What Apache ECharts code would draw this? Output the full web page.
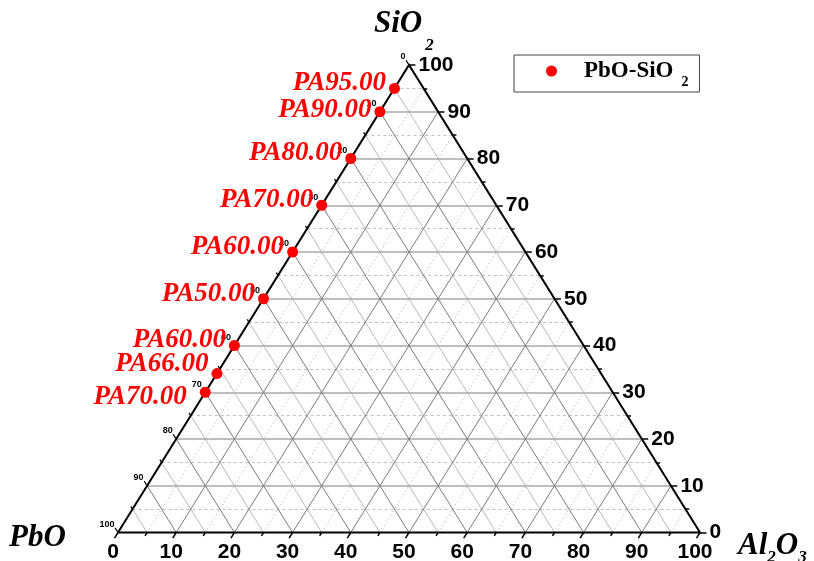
<!DOCTYPE html>
<html>
<head>
<meta charset="utf-8">
<title>PbO-SiO2-Al2O3 ternary</title>
<script src="https://cdn.jsdelivr.net/npm/echarts@6/dist/echarts.min.js"></script>
<style>
  html, body { margin: 0; padding: 0; background: #fff; }
  #chart { width: 814px; height: 561px; }
</style>
</head>
<body>
<div id="chart"></div>
<script>
// compositions in mol %
const sampleNames = ['PA95.00', 'PA90.00', 'PA80.00', 'PA70.00', 'PA60.00', 'PA50.00', 'PA60.00', 'PA66.00', 'PA70.00'];
const pboValues = [5, 10, 20, 30, 40, 50, 60, 66, 70];
const sio2Values = [95, 90, 80, 70, 60, 50, 40, 34, 30];
const al2o3Values = [0, 0, 0, 0, 0, 0, 0, 0, 0];

const majorTicks = [0, 10, 20, 30, 40, 50, 60, 70, 80, 90, 100];
const minorTicks = [5, 15, 25, 35, 45, 55, 65, 75, 85, 95];
const innerTicks = [10, 20, 30, 40, 50, 60, 70, 80, 90];

// ternary -> plane: x runs PbO corner (0) to Al2O3 corner (100), y is SiO2
function toXY(pbo, si, al) {
  return [al + si / 2, si];
}

const serif = 'Liberation Serif';
const sans = 'Liberation Sans';

// grid line families
const siLine = s => ({ coords: [toXY(100 - s, s, 0), toXY(0, s, 100 - s)] });
const alLine = a => ({ coords: [toXY(100 - a, 0, a), toXY(0, 100 - a, a)] });
const pbLine = p => ({ coords: [toXY(p, 0, 100 - p), toXY(p, 100 - p, 0)] });

// ticks, drawn outward along the grid direction
const bottomTick = (a, len) => { const [x, y] = toXY(100 - a, 0, a); return { coords: [[x, y], [x - len / 2, y - len]] }; };
const rightTick = (s, len) => { const [x, y] = toXY(0, s, 100 - s); return { coords: [[x, y], [x + len, y]] }; };
const leftTick = (p, len) => { const [x, y] = toXY(p, 100 - p, 0); return { coords: [[x, y], [x - len / 2, y + len]] }; };

function gridSeries(data, color, width, type, z) {
  return {
    type: 'lines', coordinateSystem: 'cartesian2d', silent: true, z: z || 1,
    clip: false,
    lineStyle: { color: color, width: width, type: type || 'solid', opacity: 1 },
    data: data
  };
}

function labelSeries(data, label) {
  return {
    type: 'scatter', silent: true, z: 4, symbolSize: 1,
    itemStyle: { color: 'rgba(0,0,0,0)', opacity: 1 },
    label: Object.assign({ show: true, formatter: '{b}', color: '#000', opacity: 1 }, label),
    data: data
  };
}

const chart = echarts.init(document.getElementById('chart'));

const labelNudge = { 1: [0, -2], 7: [0, -10], 8: [-10, 5] };
const points = sampleNames.map((n, i) => ({
  name: n,
  value: toXY(pboValues[i], sio2Values[i], al2o3Values[i]),
  label: labelNudge[i] ? { offset: labelNudge[i] } : undefined
}));

const edge = [toXY(100, 0, 0), toXY(0, 0, 100), toXY(0, 100, 0), toXY(100, 0, 0)];

const titleFont = { fontFamily: serif, fontWeight: 'bold', fontStyle: 'italic', fill: '#000', verticalAlign: 'top' };

const option = {
  animation: false,
  grid: { left: 118, right: 114, top: 65, bottom: 28.5 },
  xAxis: { type: 'value', min: 0, max: 100, show: false },
  yAxis: { type: 'value', min: 0, max: 100, show: false },
  legend: {
    data: ['PbO-SiO2'],
    left: 514, top: 55,
    padding: [5, 11, 3, 32],
    borderColor: '#444', borderWidth: 1,
    icon: 'circle', itemWidth: 11, itemHeight: 11,
    itemStyle: { opacity: 1 },
    selectedMode: false,
    formatter: () => '{a|PbO-SiO}{b|2}',
    textStyle: {
      rich: {
        a: { fontFamily: serif, fontWeight: 'bold', fontSize: 23, color: '#000', verticalAlign: 'top', padding: [7, 0, 0, 22] },
        b: { fontFamily: serif, fontWeight: 'bold', fontSize: 14, color: '#000', verticalAlign: 'top', padding: [22, 0, 0, 8] }
      }
    }
  },
  graphic: [
    {
      type: 'text', left: 374, top: 8.5,
      style: {
        text: '{a|SiO}{b|2}',
        rich: {
          a: Object.assign({ fontSize: 31 }, titleFont),
          b: Object.assign({ fontSize: 17, padding: [29, 0, 0, 3] }, titleFont)
        }
      }
    },
    {
      type: 'text', left: 9, top: 522,
      style: { text: 'PbO', fontFamily: serif, fontWeight: 'bold', fontStyle: 'italic', fontSize: 31, fill: '#000' }
    },
    {
      type: 'text', left: 738, top: 530.5,
      style: {
        text: '{a|Al}{b|2}{a|O}{b|3}',
        rich: {
          a: Object.assign({ fontSize: 31 }, titleFont),
          b: Object.assign({ fontSize: 17, padding: [19, 0, 0, 0] }, titleFont)
        }
      }
    }
  ],
  series: [
    // minor grid
    gridSeries(minorTicks.map(siLine), '#c0c0c0', 1, [3, 3]),
    gridSeries(minorTicks.map(alLine), '#c0c0c0', 1, [1.5, 2.5]),
    gridSeries(minorTicks.map(pbLine), '#b8b8b8', 1, 'solid'),
    // major grid
    gridSeries(innerTicks.map(siLine), '#a8a8a8', 1.6, 'solid', 2),
    gridSeries(innerTicks.map(alLine), '#7a7a7a', 1, 'solid', 2),
    gridSeries(innerTicks.map(pbLine), '#7a7a7a', 1, 'solid', 2),
    // triangle
    {
      type: 'lines', coordinateSystem: 'cartesian2d', silent: true, z: 3, clip: false,
      polyline: true,
      lineStyle: { color: '#000', width: 2, opacity: 1 },
      data: [{ coords: edge }]
    },
    // ticks
    gridSeries(majorTicks.map(a => bottomTick(a, 1.2)).concat(minorTicks.map(a => bottomTick(a, 0.7))), '#000', 1.5, 'solid', 3),
    gridSeries(majorTicks.map(s => rightTick(s, 1.1)).concat(minorTicks.map(s => rightTick(s, 0.65))), '#000', 1.5, 'solid', 3),
    gridSeries(majorTicks.map(p => leftTick(p, 1.0)).concat(minorTicks.map(p => leftTick(p, 0.6))), '#000', 1.2, 'solid', 3),
    // tick labels
    labelSeries(majorTicks.map(a => ({ name: String(a), value: toXY(100 - a, 0, a) })),
      { position: 'bottom', distance: 9, offset: [-5, 0], fontFamily: sans, fontWeight: 'bold', fontSize: 21 }),
    labelSeries(majorTicks.map(s => ({ name: String(s), value: toXY(0, s, 100 - s) })),
      { position: 'right', distance: 9, fontFamily: sans, fontWeight: 'bold', fontSize: 21 }),
    labelSeries(majorTicks.map(p => ({ name: String(p), value: toXY(p, 100 - p, 0) })),
      { position: 'left', distance: 3, offset: [0, -8], fontFamily: sans, fontWeight: 'bold', fontSize: 9 }),
    // samples
    {
      name: 'PbO-SiO2',
      type: 'scatter', z: 6,
      symbol: 'circle', symbolSize: 11,
      itemStyle: { color: '#ff0000', opacity: 1 },
      label: {
        show: true, position: 'left', distance: 3, offset: [0, -5],
        formatter: '{b}', color: '#ff0000', opacity: 1,
        fontFamily: serif, fontWeight: 'bold', fontStyle: 'italic', fontSize: 27
      },
      data: points
    }
  ]
};

chart.setOption(option);
</script>
</body>
</html>
